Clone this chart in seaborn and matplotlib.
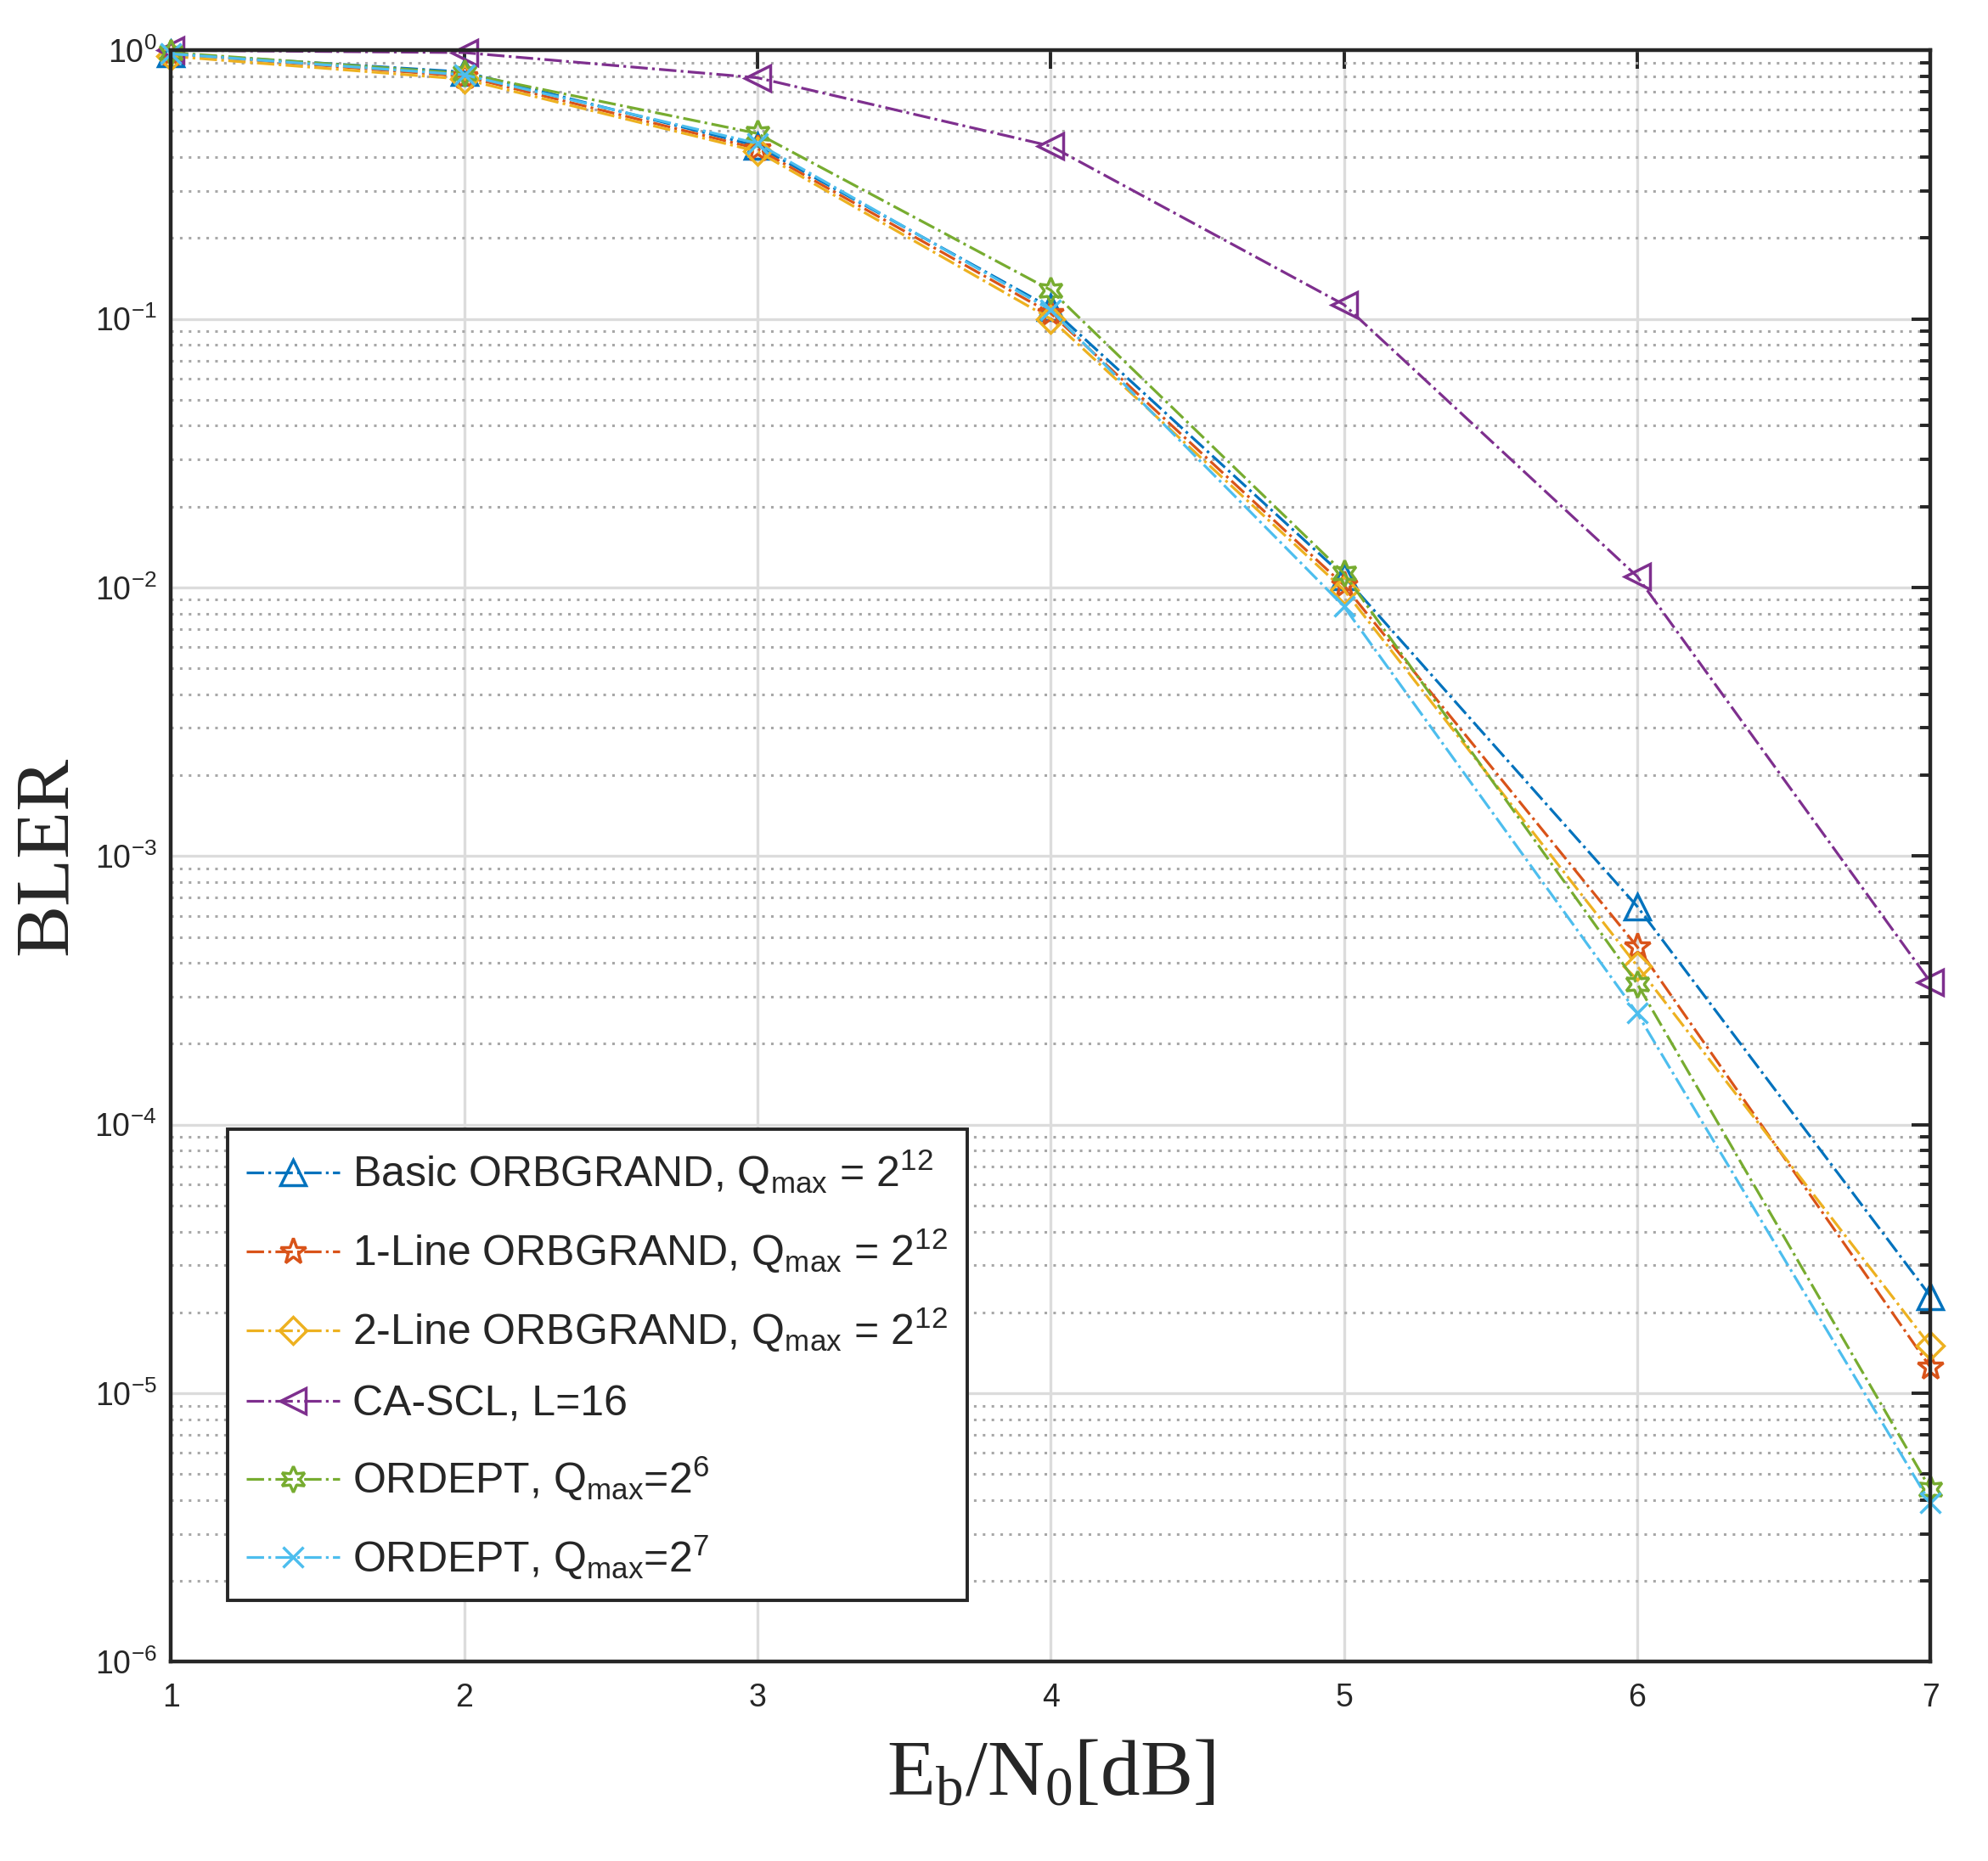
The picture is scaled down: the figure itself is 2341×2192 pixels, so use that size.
import numpy as np
import pandas as pd
import seaborn as sns
import matplotlib.pyplot as plt
from matplotlib.ticker import LogLocator, LogFormatterSciNotation, NullFormatter

sns.set_style('white')
plt.rcParams['font.family'] = ['Liberation Sans', 'DejaVu Sans']
plt.rcParams['mathtext.default'] = 'regular'
plt.rcParams['axes.unicode_minus'] = False

ebn0 = [1, 2, 3, 4, 5, 6, 7]
basic_orbgrand = [0.97, 0.83, 0.44, 0.11, 0.011, 6.5e-4, 2.3e-5]
line1_orbgrand = [0.97, 0.80, 0.43, 0.105, 0.0102, 4.6e-4, 1.25e-5]
line2_orbgrand = [0.95, 0.78, 0.42, 0.10, 0.0098, 3.9e-4, 1.5e-5]
ca_scl = [1.0, 0.98, 0.79, 0.44, 0.113, 0.011, 3.4e-4]
ordept_q6 = [0.98, 0.82, 0.49, 0.128, 0.0113, 3.35e-4, 4.4e-6]
ordept_q7 = [0.97, 0.81, 0.45, 0.108, 0.0085, 2.6e-4, 3.9e-6]

labels = [r'Basic ORBGRAND, Q$_{max}$ = 2$^{12}$',
          r'1-Line ORBGRAND, Q$_{max}$ = 2$^{12}$',
          r'2-Line ORBGRAND, Q$_{max}$ = 2$^{12}$',
          'CA-SCL, L=16',
          r'ORDEPT, Q$_{max}$=2$^{6}$',
          r'ORDEPT, Q$_{max}$=2$^{7}$']
series = [basic_orbgrand, line1_orbgrand, line2_orbgrand, ca_scl, ordept_q6, ordept_q7]
colors = ['#0072BD', '#D95319', '#EDB120', '#7E2F8E', '#77AC30', '#4DBEEE']
markers = ['^', '*', 'D', '<', (6, 1, 0), 'x']
msizes = [21, 23, 16, 21, 22, 17]

fig = plt.figure(figsize=(23.41, 21.92), dpi=100)
ax = fig.add_axes([0.086, 0.107, 0.885, 0.866])

for lab, ys, c, m, ms in zip(labels, series, colors, markers, msizes):
    sns.lineplot(x=ebn0, y=ys, ax=ax, color=c, marker=m, markersize=ms,
                 markerfacecolor='none', markeredgecolor=c, markeredgewidth=2.5,
                 linestyle='-.', linewidth=2.3, label=lab, clip_on=False)

ax.set_yscale('log')
ax.set_xlim(1, 7)
ax.set_ylim(1e-6, 1)
ax.set_xticks(ebn0)
ax.yaxis.set_major_locator(LogLocator(base=10, numticks=10))
ax.yaxis.set_major_formatter(LogFormatterSciNotation())
ax.yaxis.set_minor_locator(LogLocator(base=10, subs=np.arange(2, 10), numticks=20))
ax.yaxis.set_minor_formatter(NullFormatter())

ax.grid(which='major', axis='both', color='#dcdcdc', linestyle='-', linewidth=2.4)
ax.grid(which='minor', axis='y', color='#a8a8a8', linestyle=(0, (1.0, 2.4)), linewidth=2.2)
ax.set_axisbelow(True)

ax.tick_params(which='major', direction='in', length=16, width=2.8, top=True, right=True,
               labelsize=27, colors='#262626', pad=12)
ax.tick_params(axis='x', which='major', pad=18)
ax.tick_params(which='minor', direction='in', length=9, width=2.8, top=True, right=True)
for sp in ax.spines.values():
    sp.set_linewidth(3.2)
    sp.set_color('#262626')

ax.set_xlabel(r'E$_b$/N$_0$[dB]', fontsize=67, fontfamily='Liberation Serif', color='#262626', labelpad=22)
ax.set_ylabel('BLER', fontsize=66, fontfamily='Liberation Serif', color='#262626', labelpad=10)

leg = ax.legend(loc='lower left', bbox_to_anchor=(0.032, 0.038), fontsize=36,
                frameon=True, fancybox=False, edgecolor='#262626', framealpha=1,
                handlelength=2.2, borderpad=0.45, labelspacing=0.72, handletextpad=0.3,
                borderaxespad=0)
leg.get_frame().set_linewidth(2.8)

fig.savefig('out.png', dpi=100)
